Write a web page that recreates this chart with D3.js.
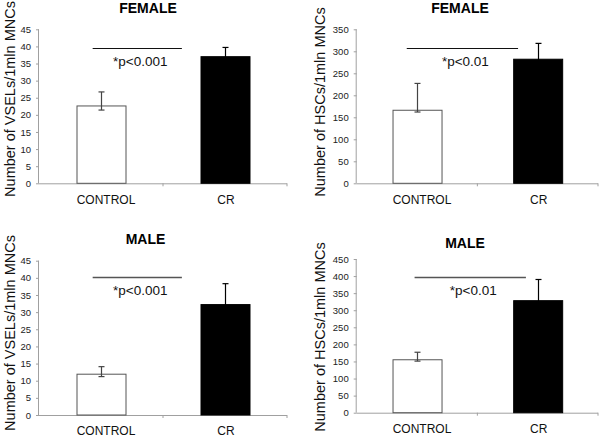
<!DOCTYPE html>
<html><head><meta charset="utf-8">
<script src="https://cdn.jsdelivr.net/npm/d3@7"></script>
<style>
body{margin:0;background:#fff;}
text{font-family:"Liberation Sans",Arial,Helvetica,sans-serif;}
</style></head>
<body><svg id="c" width="600" height="438"></svg>
<script>
// ---- data ----
const categories = ["CONTROL", "CR"];
const titles = ["FEMALE", "FEMALE", "MALE", "MALE"];
const yLabels = ["Number of VSELs/1mln MNCs", "Number of HSCs/1mln MNCs", "Number of VSELs/1mln MNCs", "Number of HSCs/1mln MNCs"];
const yMax = [45, 350, 45, 450];
const yStep = [5, 50, 5, 50];
const means = [[22.6, 37.0], [166, 282], [11.9, 32.2], [155, 328]];
const errHigh = [[26.7, 39.7], [227, 318], [14.1, 38.3], [177, 390]];
const errLow = [[21.4, 34.3], [162, 246], [11.2, 26.1], [151, 266]];
const sigLevel = [39.6, 307, 40.3, 398];
const pText = ["*p<0.001", "*p<0.01", "*p<0.001", "*p<0.01"];

// ---- layout (positions only) ----
const panels = [
  {x0: 39, x1: 287, yb: 183.3, yt: 29.3, pad: 12.5, titleX: 148, titleY: 13, labX: 15, labY: 99, sigA: 0.33, sigB: -0.38},
  {x0: 356.7, x1: 598, yb: 183.3, yt: 29.3, pad: 12.5, titleX: 460, titleY: 13, labX: 325, labY: 102, sigA: 0.29, sigB: 0.1},
  {x0: 39, x1: 287, yb: 415, yt: 260.7, pad: 11, titleX: 145.5, titleY: 244, labX: 15, labY: 333, sigA: 0.33, sigB: -0.38},
  {x0: 356.7, x1: 598, yb: 412.7, yt: 259, pad: 11.5, titleX: 465, titleY: 248, labX: 325, labY: 337, sigA: 0.45, sigB: 0.26}
];

const svg = d3.select("#c");
const axisCol = "#a0a0a0";

panels.forEach((p, i) => {
  const g = svg.append("g");
  const stepPx = (p.x1 - p.x0) / 2;
  const pi = 1 - 49 / stepPx;
  const x = d3.scaleBand().domain(categories).range([p.x0, p.x1]).paddingInner(pi).paddingOuter(pi / 2);
  const y = d3.scaleLinear().domain([0, yMax[i]]).range([p.yb, p.yt]);
  const bw = x.bandwidth();

  // y axis
  const ya = g.append("g").attr("transform", `translate(${p.x0},0)`)
    .call(d3.axisLeft(y).tickValues(d3.range(0, yMax[i] + 0.001, yStep[i])).tickSize(3).tickPadding(5).tickFormat(d3.format("d")));
  ya.select(".domain").attr("stroke", axisCol).attr("d", `M-0.5,${p.yb}V${p.yt}`);
  ya.selectAll(".tick line").attr("stroke", axisCol);
  ya.selectAll(".tick text").attr("font-size", 9.5).attr("fill", "#222").attr("font-family", "Liberation Sans, Arial, sans-serif");

  // x axis
  const xa = g.append("g").attr("transform", `translate(0,${p.yb})`)
    .call(d3.axisBottom(x).tickSize(0).tickPadding(p.pad));
  xa.select(".domain").attr("stroke", axisCol).attr("d", `M${p.x0},0.5H${p.x1}`);
  xa.selectAll(".tick text").attr("font-size", 12).attr("fill", "#111")
    .attr("font-family", "Liberation Sans, Arial, sans-serif")
    .attr("dx", d => d === "CONTROL" ? 5 : 1);
  // category boundary ticks
  const bounds = [p.x0 + stepPx, p.x1];
  g.selectAll(".bt").data(bounds).enter().append("line")
    .attr("x1", d => d).attr("x2", d => d).attr("y1", p.yb).attr("y2", p.yb + 3)
    .attr("stroke", axisCol);

  // bars
  g.selectAll(".bar").data(categories).enter().append("rect")
    .attr("x", d => x(d) + 0.5).attr("width", bw)
    .attr("y", (d, j) => y(means[i][j])).attr("height", (d, j) => p.yb - y(means[i][j]))
    .attr("fill", (d, j) => j === 0 ? "#fff" : "#000")
    .attr("stroke", (d, j) => j === 0 ? "#555" : "#000").attr("stroke-width", 1);

  // error bars
  categories.forEach((c, j) => {
    const cx = Math.round(x(c) + bw / 2) + 0.5;
    const eg = g.append("g").attr("stroke", j === 0 ? "#444" : "#000").attr("stroke-width", 1.2);
    eg.append("line").attr("x1", cx).attr("x2", cx).attr("y1", y(errHigh[i][j])).attr("y2", y(errLow[i][j]));
    eg.append("line").attr("x1", cx - 3).attr("x2", cx + 3).attr("y1", y(errHigh[i][j])).attr("y2", y(errHigh[i][j]));
    eg.append("line").attr("x1", cx - 3).attr("x2", cx + 3).attr("y1", y(errLow[i][j])).attr("y2", y(errLow[i][j]));
  });

  // significance line
  const sx1 = x(categories[0]) + p.sigA * bw;
  const sx2 = x(categories[1]) + p.sigB * bw;
  const sy = Math.round(y(sigLevel[i])) + 0.5;
  g.append("line").attr("x1", sx1).attr("x2", sx2).attr("y1", sy).attr("y2", sy)
    .attr("stroke", i < 2 ? "#111" : "#555").attr("stroke-width", i < 2 ? 1 : 1.5);
  g.append("text").attr("x", (sx1 + sx2) / 2 + 3).attr("y", sy + 17.5)
    .attr("text-anchor", "middle").attr("font-size", 13.5).attr("fill", "#111").text(pText[i]);

  // title
  g.append("text").attr("x", p.titleX).attr("y", p.titleY).attr("text-anchor", "middle")
    .attr("font-size", 14).attr("font-weight", "bold").attr("fill", "#000").text(titles[i]);

  // y label
  g.append("text").attr("transform", `translate(${p.labX},${p.labY}) rotate(-90)`)
    .attr("text-anchor", "middle").attr("font-size", 14.5).attr("fill", "#111").text(yLabels[i]);
});
</script></body></html>
